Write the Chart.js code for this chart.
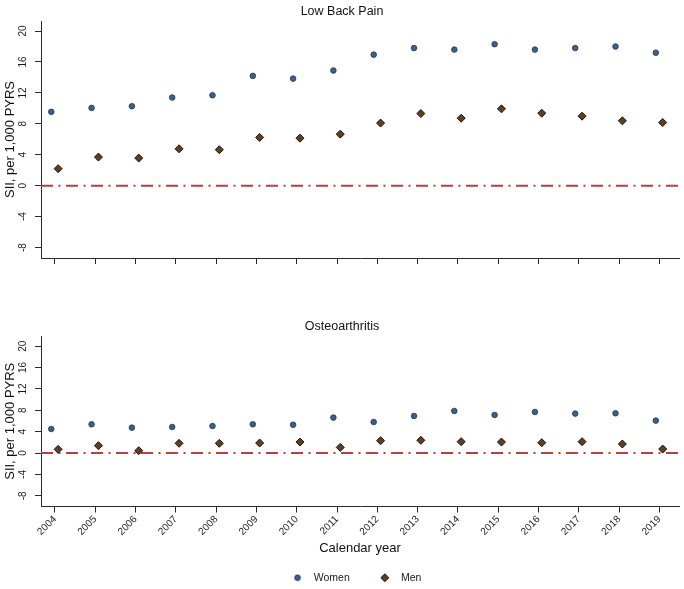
<!DOCTYPE html>
<html>
<head>
<meta charset="utf-8">
<script src="https://cdn.jsdelivr.net/npm/chart.js@4.4.1/dist/chart.umd.min.js"></script>
<style>
  html, body { margin: 0; padding: 0; background: #fff; overflow: hidden; }
  #wrap { position: relative; width: 684px; height: 589px; overflow: hidden; }
  .panel { position: absolute; left: 0; }
  #top { top: 0; }
  #bottom { top: 270px; }
</style>
</head>
<body>
<div id="wrap">
  <div class="panel" id="top"><canvas id="lbp" width="684" height="270"></canvas></div>
  <div class="panel" id="bottom"><canvas id="oa" width="684" height="323"></canvas></div>
</div>
<script>
// calendar years on the x axis
const years = [2004, 2005, 2006, 2007, 2008, 2009, 2010, 2011, 2012, 2013, 2014, 2015, 2016, 2017, 2018, 2019];
const yTicks = [-8, -4, 0, 4, 8, 12, 16, 20];

// SII per 1,000 PYRS, low back pain
const lbpWomen = [9.55, 10.06, 10.28, 11.4, 11.7, 14.2, 13.85, 14.9, 16.95, 17.8, 17.6, 18.3, 17.6, 17.8, 18.0, 17.2];
const lbpMen = [2.2, 3.7, 3.57, 4.77, 4.65, 6.24, 6.15, 6.67, 8.1, 9.33, 8.73, 9.94, 9.38, 8.99, 8.39, 8.17];

// SII per 1,000 PYRS, osteoarthritis
const oaWomen = [4.5, 5.38, 4.75, 4.88, 5.06, 5.38, 5.3, 6.63, 5.81, 6.94, 7.88, 7.13, 7.69, 7.38, 7.44, 6.07];
const oaMen = [0.69, 1.38, 0.44, 1.82, 1.82, 1.88, 2.06, 1.06, 2.31, 2.38, 2.13, 2.06, 1.94, 2.13, 1.69, 0.75];

const refValue = 0;

const womenFill = '#3b6089';
const womenEdge = '#22364f';
const menFill = '#5a4125';
const menEdge = '#1b1208';
const refColor = '#b4403f';
const axisColor = '#2a2a2a';
const font = 'Liberation Sans, Arial, Helvetica, sans-serif';

Chart.defaults.font.family = font;
Chart.defaults.color = '#1a1a1a';

// dash-dot line at zero
const zeroLine = {
  id: 'zeroLine',
  beforeDatasetsDraw(chart) {
    const { ctx, chartArea: a, scales: { y } } = chart;
    const py = y.getPixelForValue(refValue);
    ctx.save();
    ctx.strokeStyle = refColor;
    ctx.lineWidth = 2;
    ctx.setLineDash([12, 5.5, 2, 5.5]);
    ctx.beginPath();
    ctx.moveTo(a.left, py);
    ctx.lineTo(a.right, py);
    ctx.stroke();
    ctx.restore();
  }
};

// legend marker images: wide box, marker sits near the right so the gap to the text matches
const markW = 46;
function marker(kind, fill, edge) {
  const c = document.createElement('canvas');
  c.width = markW; c.height = 12;
  const g = c.getContext('2d');
  const cx = markW - 11, cy = 6;
  g.fillStyle = fill; g.strokeStyle = edge; g.lineWidth = 1;
  g.beginPath();
  if (kind === 'circle') {
    g.arc(cx, cy, 2.8, 0, Math.PI * 2);
  } else {
    g.moveTo(cx, cy - 4); g.lineTo(cx + 4, cy); g.lineTo(cx, cy + 4); g.lineTo(cx - 4, cy); g.closePath();
  }
  g.fill(); g.stroke();
  return c;
}
const legendMarks = [marker('circle', womenFill, womenEdge), marker('diamond', menFill, menEdge)];

function makePanel(id, title, women, men, o) {
  return new Chart(document.getElementById(id), {
    type: 'scatter',
    data: {
      datasets: [
        {
          label: 'Women',
          data: years.map((yr, i) => ({ x: yr - 0.09, y: women[i] })),
          pointStyle: 'circle', pointRadius: 2.8, pointHoverRadius: 2.8,
          backgroundColor: womenFill, borderColor: womenEdge, borderWidth: 0.8
        },
        {
          label: 'Men',
          data: years.map((yr, i) => ({ x: yr + 0.08, y: men[i] })),
          pointStyle: 'rectRot', pointRadius: 4, pointHoverRadius: 4,
          backgroundColor: menFill, borderColor: menEdge, borderWidth: 1
        }
      ]
    },
    options: {
      responsive: false,
      animation: false,
      layout: { padding: { left: 0, right: 0, top: 0, bottom: 0 } },
      plugins: {
        title: {
          display: true, text: title, color: '#111',
          font: { size: 12.5, weight: 'normal' },
          padding: { top: o.titleTop, bottom: o.titleBottom }
        },
        legend: {
          display: o.legend, position: 'bottom',
          labels: {
            usePointStyle: true, pointStyleWidth: markW, padding: 0,
            font: { size: 10.5 }, color: '#1a1a1a',
            generateLabels: chart => Chart.defaults.plugins.legend.labels.generateLabels(chart)
              .map(item => ({ ...item, pointStyle: legendMarks[item.datasetIndex] }))
          }
        },
        tooltip: { enabled: false }
      },
      scales: {
        x: {
          type: 'linear', min: 2003.655, max: 2019.485,
          afterBuildTicks: s => { s.ticks = years.map(v => ({ value: v })); },
          afterFit: s => { s.height = o.xHeight; s.paddingLeft = 0; s.paddingRight = 0; },
          grid: { display: true, drawOnChartArea: false, drawTicks: true, tickLength: 6, tickColor: axisColor, tickWidth: 1 },
          border: { display: true, color: axisColor, width: 1 },
          ticks: {
            display: o.yearLabels, autoSkip: false, minRotation: 45, maxRotation: 45,
            padding: 1, font: { size: 10 }, color: '#1a1a1a',
            callback: v => String(v)
          },
          title: {
            display: o.yearLabels, text: 'Calendar year', color: '#111',
            font: { size: 13 }, padding: { top: 0, bottom: 16 }
          }
        },
        y: {
          min: o.yMin, max: o.yMax,
          afterBuildTicks: s => { s.ticks = yTicks.map(v => ({ value: v })); },
          afterFit: s => { s.width = 41; },
          grid: { display: true, drawOnChartArea: false, drawTicks: true, tickLength: 6, tickColor: axisColor, tickWidth: 1 },
          border: { display: true, color: axisColor, width: 1 },
          ticks: {
            minRotation: 90, maxRotation: 90, crossAlign: 'center', padding: 6,
            font: { size: 10 }, color: '#1a1a1a'
          },
          title: {
            display: true, text: 'SII, per 1,000 PYRS', color: '#111',
            font: { size: 13 }, padding: { top: 3, bottom: 0 }
          }
        }
      }
    },
    plugins: [zeroLine]
  });
}

makePanel('lbp', 'Low Back Pain', lbpWomen, lbpMen,
  { titleTop: 4.5, titleBottom: 1.5, legend: false, yearLabels: false, xHeight: 11, yMin: -9.35, yMax: 21.3 });
makePanel('oa', 'Osteoarthritis', oaWomen, oaMen,
  { titleTop: 49, titleBottom: 2, legend: true, yearLabels: true, xHeight: 66, yMin: -10, yMax: 21.9 });
</script>
</body>
</html>
